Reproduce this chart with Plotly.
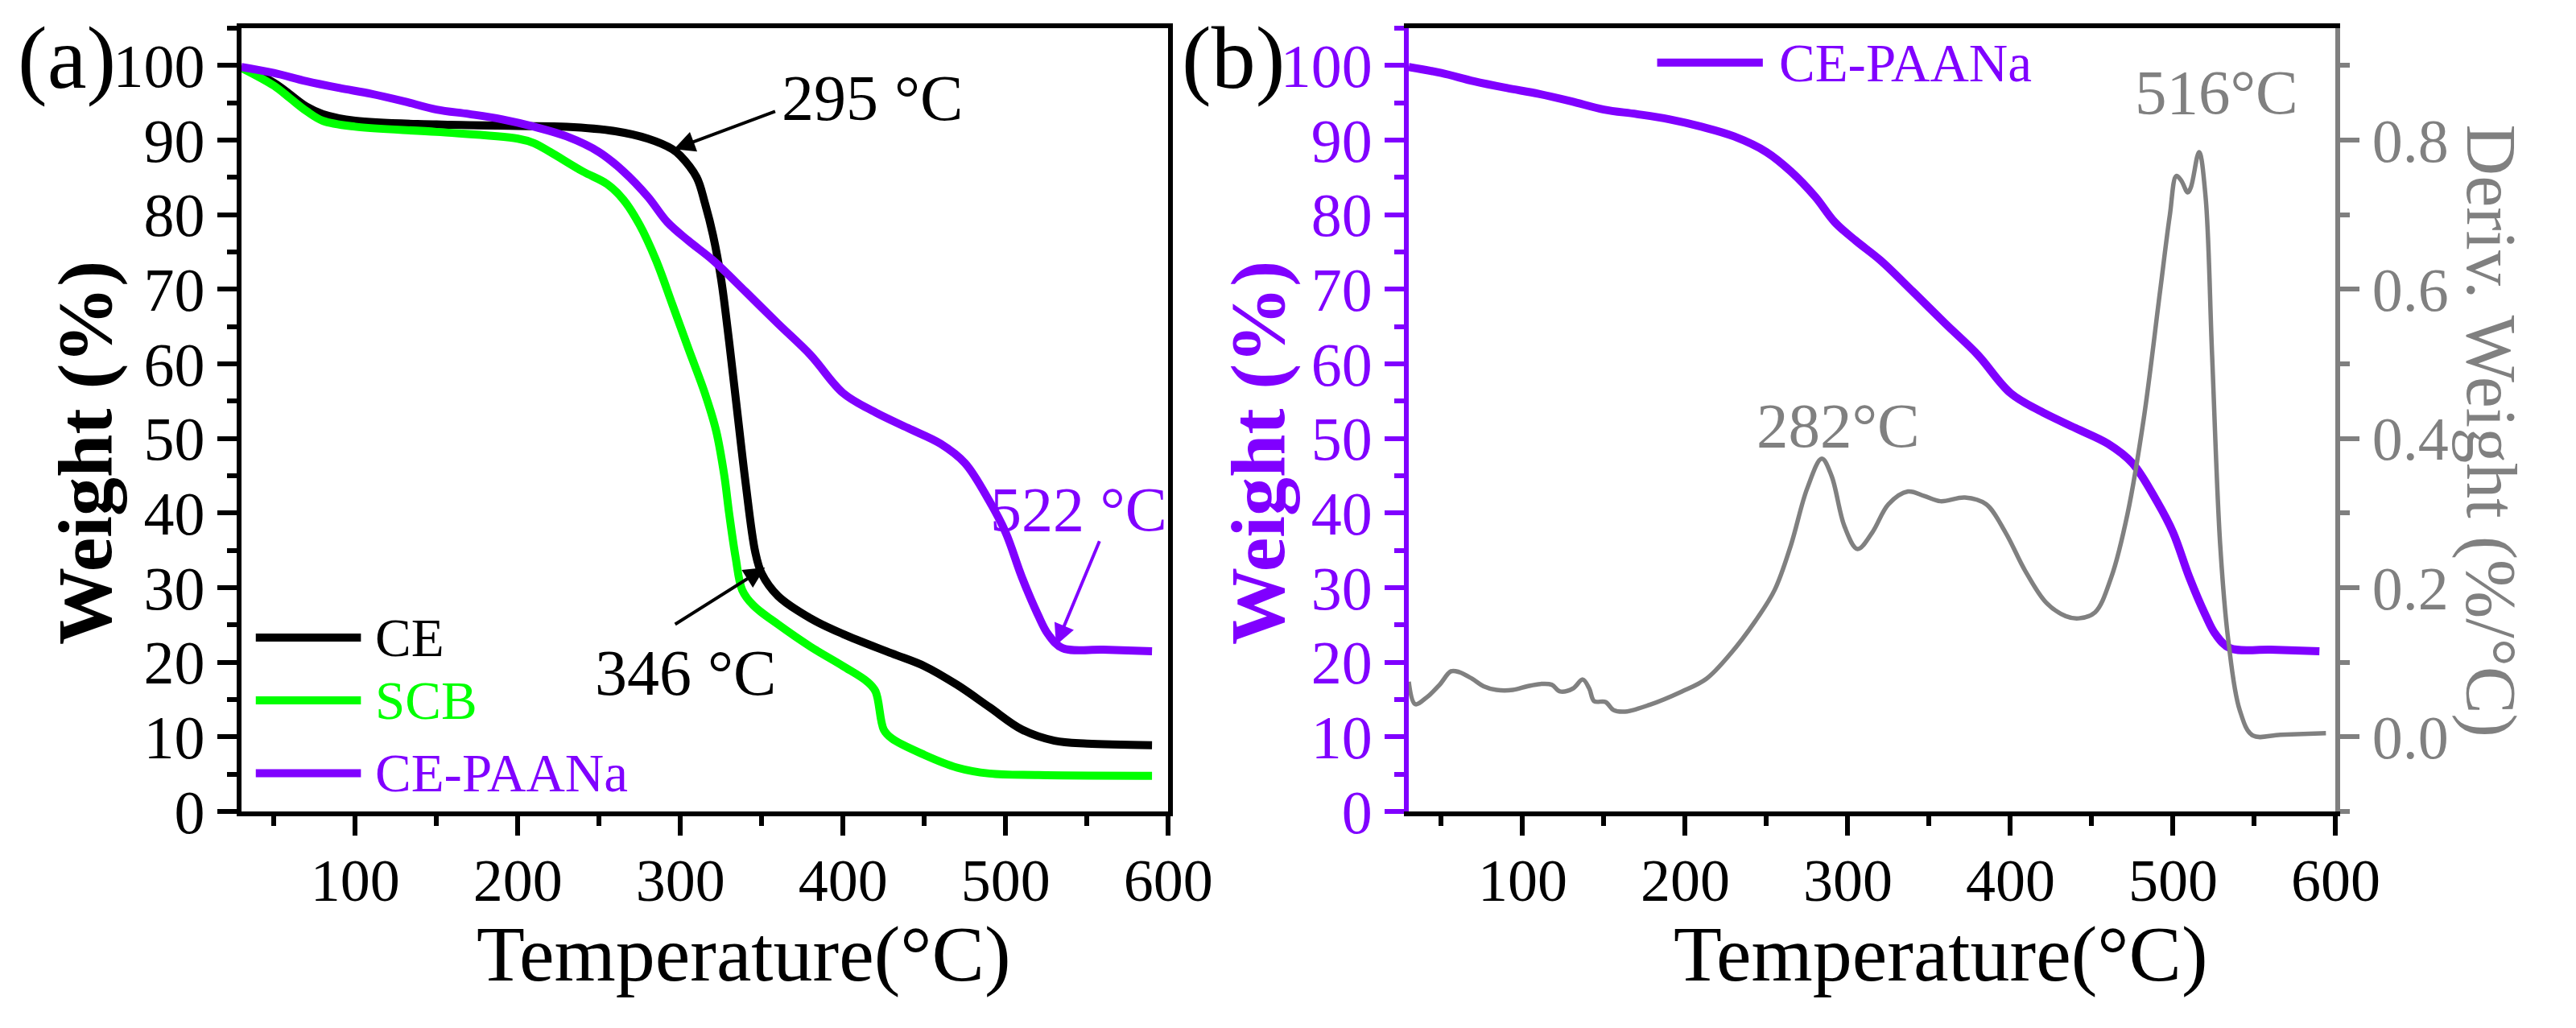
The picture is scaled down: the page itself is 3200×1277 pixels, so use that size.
import plotly.graph_objects as go

# temperature / weight readings for panel (a)
t_ce = [30, 50, 70, 80, 100, 150, 200, 230, 260, 280, 295, 300, 310, 315, 320, 325, 330, 335,
        340, 346, 350, 360, 380, 400, 430, 450, 470, 490, 510, 530, 550, 590]
w_ce = [99.7, 97.7, 94.5, 93.5, 92.6, 92.1, 91.9, 91.8, 91.2, 90.2, 88.8, 87.9, 85.0, 81.6,
        77.3, 71.4, 62.9, 53.5, 44.2, 34.8, 31.9, 28.9, 25.9, 23.8, 21.2, 19.5, 17.0, 14.0,
        11.0, 9.5, 9.1, 8.9]

t_scb = [30, 50, 60, 70, 80, 100, 150, 200, 210, 220, 240, 255, 265, 275, 285, 295, 305, 315,
         322, 327, 330, 334, 338, 345, 360, 380, 400, 415, 420, 425, 430, 450, 470, 490, 520, 590]
w_scb = [99.7, 97.3, 95.6, 93.9, 92.6, 91.8, 91.1, 90.2, 89.6, 88.4, 85.8, 84.1, 82.0, 78.6,
         73.9, 68.0, 62.0, 56.1, 51.0, 45.0, 39.9, 34.0, 29.7, 27.6, 25.1, 22.1, 19.5, 17.4,
         16.1, 11.0, 9.8, 7.6, 5.9, 5.1, 4.9, 4.8]

t_paa = [30, 50, 70, 90, 110, 130, 150, 170, 190, 210, 230, 250, 265, 280, 292, 305, 320, 340,
         360, 380, 400, 420, 440, 460, 475, 490, 500, 510, 520, 526, 535, 560, 590]
w_paa = [99.8, 99.0, 97.9, 97.0, 96.2, 95.2, 94.1, 93.5, 92.8, 91.8, 90.5, 88.4, 85.8, 82.4,
         79.0, 76.5, 73.9, 69.7, 65.4, 61.2, 56.1, 53.5, 51.4, 49.3, 46.7, 41.6, 37.4, 31.4,
         26.3, 23.8, 21.9, 21.7, 21.5]

# derivative weight for panel (b)
t_dtg = [30, 34, 41, 49, 56, 61, 69, 76, 84, 94, 103, 111, 118, 123, 131, 137, 141, 144, 151,
         156, 163, 178, 198, 213, 228, 243, 255, 265, 275, 284, 290, 298, 306, 315, 325, 337,
         347, 357, 372, 385, 397, 409, 422, 434, 442, 452, 462, 472, 482, 492, 498, 502, 505,
         509, 511, 516, 520, 524, 529, 534, 541, 549, 566, 594]
d_dtg = [0.074, 0.044, 0.053, 0.070, 0.088, 0.087, 0.078, 0.068, 0.063, 0.063, 0.068, 0.071,
         0.070, 0.061, 0.065, 0.077, 0.065, 0.048, 0.047, 0.036, 0.034, 0.043, 0.061, 0.078,
         0.112, 0.155, 0.197, 0.257, 0.333, 0.373, 0.350, 0.282, 0.252, 0.274, 0.312, 0.329,
         0.323, 0.316, 0.321, 0.312, 0.274, 0.223, 0.180, 0.162, 0.159, 0.167, 0.214, 0.299,
         0.427, 0.597, 0.699, 0.752, 0.746, 0.730, 0.737, 0.784, 0.724, 0.512, 0.257, 0.129,
         0.036, 0.002, 0.003, 0.005]

BLACK = "black"
GREEN = "#00FF00"
PURPLE = "#8000FF"
GRAY = "#808080"
FONT = "Liberation Serif"
W, H = 3200, 1277

fig = go.Figure()

fig.add_trace(go.Scatter(x=t_ce, y=w_ce, mode="lines", line=dict(color=BLACK, width=10, shape="spline"),
                         xaxis="x", yaxis="y", showlegend=False))
fig.add_trace(go.Scatter(x=t_scb, y=w_scb, mode="lines", line=dict(color=GREEN, width=10, shape="spline"),
                         xaxis="x", yaxis="y", showlegend=False))
fig.add_trace(go.Scatter(x=t_paa, y=w_paa, mode="lines", line=dict(color=PURPLE, width=10, shape="spline"),
                         xaxis="x", yaxis="y", showlegend=False))

fig.add_trace(go.Scatter(x=t_paa, y=w_paa, mode="lines", line=dict(color=PURPLE, width=10, shape="spline"),
                         xaxis="x2", yaxis="y3", showlegend=False))
fig.add_trace(go.Scatter(x=t_dtg, y=d_dtg, mode="lines", line=dict(color=GRAY, width=5.5, shape="spline"),
                         xaxis="x2", yaxis="y4", showlegend=False))

tick_font = dict(family=FONT, size=76, color=BLACK)

xcommon = dict(range=[30, 600], dtick=100, tick0=0, ticks="outside", ticklen=24, tickwidth=6,
               showline=True, linecolor=BLACK, linewidth=6, mirror=True, showgrid=False,
               zeroline=False, tickfont=dict(family=FONT, size=74, color=BLACK), tickcolor=BLACK,
               ticklabelstandoff=-8,
               minor=dict(dtick=50, tick0=0, ticks="outside", ticklen=12, tickwidth=6, tickcolor=BLACK))

ycommon = dict(range=[0, 105], dtick=10, tick0=0, ticks="outside", ticklen=24, tickwidth=6,
               showline=True, linewidth=6, showgrid=False, zeroline=False,
               minor=dict(dtick=5, tick0=0, ticks="outside", ticklen=12, tickwidth=6))

ydom = [1 - 1035 / H, 1 - 28 / H]

fig.update_layout(
    width=W, height=H,
    margin=dict(l=0, r=0, t=0, b=0),
    paper_bgcolor="white", plot_bgcolor="white",
    xaxis=dict(domain=[297 / W, 1469 / W], anchor="y", **xcommon),
    yaxis=dict(domain=ydom, anchor="x", linecolor=BLACK, tickcolor=BLACK, mirror=True,
               tickfont=tick_font, **ycommon),
    xaxis2=dict(domain=[1773 / W, 2945 / W], anchor="y3", **xcommon),
    yaxis3=dict(domain=ydom, anchor="x2", linecolor=PURPLE, tickcolor=PURPLE,
                tickfont=dict(family=FONT, size=76, color=PURPLE), **ycommon),
    yaxis4=dict(overlaying="y3", side="right", anchor="x2", range=[-0.1, 0.95], dtick=0.2, tick0=0,
                tickformat=".1f", ticks="outside", ticklen=24, tickwidth=6, tickcolor=GRAY,
                showline=True, linecolor=GRAY, linewidth=6, showgrid=False, zeroline=False,
                tickfont=dict(family=FONT, size=76, color=GRAY),
                minor=dict(dtick=0.1, tick0=0, ticks="outside", ticklen=12, tickwidth=6, tickcolor=GRAY)),
)

centered = dict(xref="paper", yref="paper", showarrow=False, xanchor="center", yanchor="middle")

# axis titles as free text so they can sit where the reference puts them
for xc in (932, 2446):
    fig.add_annotation(x=xc / W, y=1 - 1218 / H, text="Temperature(°C)",
                       font=dict(family=FONT, size=98, color=BLACK), **centered)
fig.add_annotation(x=99 / W, y=1 - 574 / H, text="Weight (%)", textangle=-90,
                   font=dict(family=FONT, size=96, color=BLACK, weight="bold"), **centered)
fig.add_annotation(x=1582 / W, y=1 - 574 / H, text="Weight (%)", textangle=-90,
                   font=dict(family=FONT, size=96, color=PURPLE, weight="bold"), **centered)
fig.add_annotation(x=3141 / W, y=1 - 545 / H, text="Deriv. Weight (%/°C)", textangle=90,
                   font=dict(family=FONT, size=88, color=GRAY), **centered)

# panel tags
fig.add_annotation(x=76 / W, y=1 - 66 / H, text="(a)", font=dict(family=FONT, size=110, color=BLACK), **centered)
fig.add_annotation(x=1551 / W, y=1 - 66 / H, text="(b)", font=dict(family=FONT, size=110, color=BLACK), **centered)

# line-key legends drawn by hand
legend_a = [("CE", BLACK, 0.222), ("SCB", GREEN, 0.142), ("CE-PAANa", PURPLE, 0.049)]
for name, col, yy in legend_a:
    fig.add_shape(type="line", xref="x domain", yref="y domain", x0=0.0156, x1=0.129, y0=yy, y1=yy,
                  line=dict(color=col, width=10))
    fig.add_annotation(xref="x domain", yref="y domain", x=0.143, y=yy, text=name, showarrow=False,
                       xanchor="left", yanchor="middle", font=dict(family=FONT, size=67, color=col))

fig.add_shape(type="line", xref="x2 domain", yref="y3 domain", x0=0.268, x1=0.382, y0=0.956, y1=0.956,
              line=dict(color=PURPLE, width=10))
fig.add_annotation(xref="x2 domain", yref="y3 domain", x=0.398, y=0.956, text="CE-PAANa", showarrow=False,
                   xanchor="left", yanchor="middle", font=dict(family=FONT, size=67, color=PURPLE))

# arrows with labels, panel (a)
arrow_kw = dict(showarrow=True, arrowhead=2, arrowsize=1.3, arrowwidth=4, axref="x", ayref="y",
                xref="x", yref="y", text="")
fig.add_annotation(x=296, y=88.8, ax=359, ay=93.9, arrowcolor=BLACK, **arrow_kw)
fig.add_annotation(x=352, y=32.7, ax=296, ay=25.0, arrowcolor=BLACK, **arrow_kw)
fig.add_annotation(x=531, y=22.3, ax=558, ay=36.4, arrowcolor=PURPLE, **arrow_kw)
fig.add_annotation(x=418, y=95.6, xref="x", yref="y", text="295 °C", showarrow=False,
                   font=dict(family=FONT, size=80, color=BLACK))
fig.add_annotation(x=303, y=18.6, xref="x", yref="y", text="346 °C", showarrow=False,
                   font=dict(family=FONT, size=80, color=BLACK))
fig.add_annotation(x=545, y=40.5, xref="x", yref="y", text="522 °C", showarrow=False,
                   font=dict(family=FONT, size=78, color=PURPLE))

# peak labels, panel (b)
fig.add_annotation(x=294, y=51.8, xref="x2", yref="y3", text="282°C", showarrow=False,
                   font=dict(family=FONT, size=79, color=GRAY))
fig.add_annotation(x=527, y=96.4, xref="x2", yref="y3", text="516°C", showarrow=False,
                   font=dict(family=FONT, size=79, color=GRAY))

fig.write_html("out.html")
